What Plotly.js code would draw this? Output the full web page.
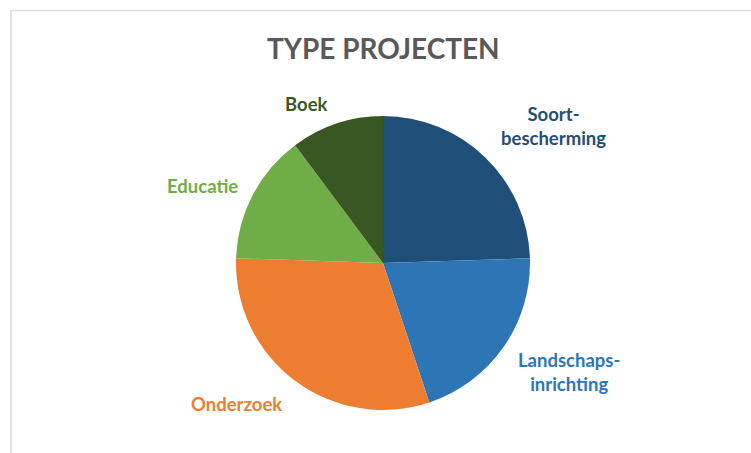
<!DOCTYPE html>
<html>
<head>
<meta charset="utf-8">
<script src="https://cdn.plot.ly/plotly-3.0.1.min.js"></script>
<style>
  html, body { margin: 0; padding: 0; background: #ffffff; }
  #chart { width: 751px; height: 453px; }
  #chart text { font-variant-ligatures: none; }
</style>
</head>
<body>
<div id="chart"></div>
<script>
// Data
const categories = ["Soortbescherming", "Landschapsinrichting", "Onderzoek", "Educatie", "Boek"];
const labelTexts = ["Soort-<br>bescherming", "Landschaps-<br>inrichting", "Onderzoek", "Educatie", "Boek"];
const values = [12, 10, 15, 7, 5];
const colors = ["#1f4e79", "#2e75b6", "#ed7d31", "#70ad47", "#385723"];
const titleText = "TYPE PROJECTEN";

const W = 751, H = 453;
const fontFam = "Lato, 'Open Sans', sans-serif";

// Pie geometry (pixels)
const cx = 383, cy = 263, r = 147;
// Label positions (pixels)
const labelPos = [[553, 126], [569, 372], [236, 404], [202, 186], [306, 104]];

const trace = {
  type: "pie",
  labels: categories,
  values: values,
  sort: false,
  direction: "clockwise",
  rotation: 0,
  marker: { colors: colors, line: { width: 0 } },
  textinfo: "none",
  hoverinfo: "label+value+percent",
  showlegend: false,
  domain: {
    x: [(cx - r) / W, (cx + r) / W],
    y: [(H - cy - r) / H, (H - cy + r) / H]
  }
};

const annotations = labelTexts.map((t, i) => ({
  text: "<b>" + t + "</b>",
  x: labelPos[i][0] / W,
  y: 1 - labelPos[i][1] / H,
  xref: "paper", yref: "paper",
  xanchor: "center", yanchor: "middle",
  showarrow: false,
  align: "center",
  font: { family: fontFam, size: 18.5, color: colors[i] }
}));
annotations.push({
  text: "<b>" + titleText + "</b>",
  x: 383 / W, y: 1 - 48 / H,
  xref: "paper", yref: "paper",
  xanchor: "center", yanchor: "middle",
  showarrow: false,
  font: { family: fontFam, size: 28, color: "#595959" }
});

const layout = {
  width: W, height: H,
  margin: { l: 0, r: 0, t: 0, b: 0 },
  paper_bgcolor: "#ffffff",
  plot_bgcolor: "#ffffff",
  annotations: annotations,
  shapes: [
    { type: "line", xref: "paper", yref: "paper", x0: 11 / W, x1: 1, y0: 1 - 10.5 / H, y1: 1 - 10.5 / H, line: { color: "#d9d9d9", width: 1.5 } },
    { type: "line", xref: "paper", yref: "paper", x0: 11 / W, x1: 11 / W, y0: 0, y1: 1 - 10.5 / H, line: { color: "#d9d9d9", width: 1.5 } }
  ]
};

Plotly.newPlot("chart", [trace], layout, { displayModeBar: false, staticPlot: true });
</script>
</body>
</html>
